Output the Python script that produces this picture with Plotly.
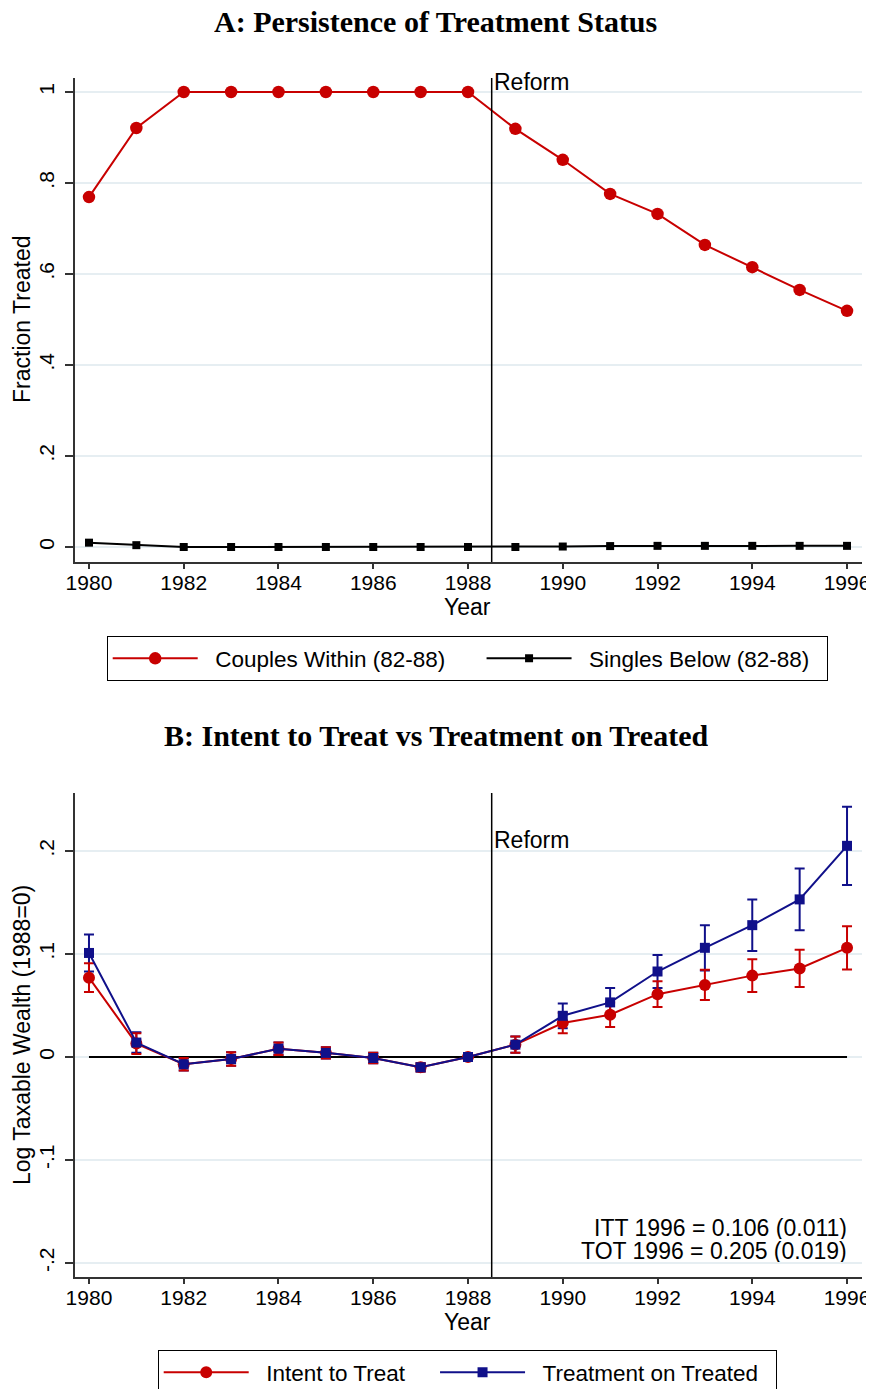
import plotly.graph_objects as go

years = list(range(1980, 1997))
couples_within = [0.769, 0.921, 1.0, 1.0, 1.0, 1.0, 1.0, 1.0, 1.0,
                  0.919, 0.851, 0.776, 0.732, 0.664, 0.615, 0.565, 0.519]
singles_below = [0.0095, 0.004, 0.0, 0.0, 0.0, 0.0, 0.0, 0.0, 0.0,
                 0.0, 0.001, 0.002, 0.0025, 0.0025, 0.0025, 0.0025, 0.0025]

itt = [0.077, 0.013, -0.007, -0.002, 0.008, 0.004, -0.001, -0.010, 0.0,
       0.012, 0.033, 0.041, 0.061, 0.070, 0.079, 0.086, 0.106]
itt_ci = [0.014, 0.010, 0.006, 0.0065, 0.006, 0.0055, 0.005, 0.004, 0.0,
          0.008, 0.010, 0.012, 0.0125, 0.0146, 0.016, 0.018, 0.021]
tot = [0.101, 0.014, -0.007, -0.002, 0.008, 0.004, -0.001, -0.010, 0.0,
       0.012, 0.040, 0.053, 0.083, 0.106, 0.128, 0.153, 0.205]
tot_ci = [0.018, 0.010, 0.006, 0.0065, 0.006, 0.0055, 0.005, 0.004, 0.0,
          0.008, 0.012, 0.014, 0.016, 0.022, 0.025, 0.030, 0.038]

x_ticks = list(range(1980, 1997, 2))
a_ticks = [0, 0.2, 0.4, 0.6, 0.8, 1.0]
a_ticktext = ["0", ".2", ".4", ".6", ".8", "1"]
b_ticks = [-0.2, -0.1, 0, 0.1, 0.2]
b_ticktext = ["-.2", "-.1", "0", ".1", ".2"]
reform_year = 1988.5
itt_note = "ITT 1996 = 0.106 (0.011)"
tot_note = "TOT 1996 = 0.205 (0.019)"

RED = "#c80000"
NAVY = "#10108a"
GRID = "#e6eef2"
SANS = "Liberation Sans, Arial, sans-serif"
SERIF = "Liberation Serif, Times New Roman, serif"
NB = "\u00a0"

# page body has an 8px margin; target picture is 874 x 1389
OFF = 8
W, H = 874 - OFF, 1389 - OFF
fig = go.Figure()

# Panel A
fig.add_trace(go.Scatter(x=years, y=couples_within, mode="lines+markers",
                         name=NB * 2 + "Couples Within (82-88)" + NB * 5,
                         line=dict(color=RED, width=2),
                         marker=dict(symbol="circle", size=12.5, color=RED),
                         xaxis="x", yaxis="y", legend="legend"))
fig.add_trace(go.Scatter(x=years, y=singles_below, mode="lines+markers",
                         name=NB * 2 + "Singles Below (82-88)" + NB * 2,
                         line=dict(color="black", width=2),
                         marker=dict(symbol="square", size=8, color="black"),
                         xaxis="x", yaxis="y", legend="legend"))

# Panel B
fig.add_trace(go.Scatter(x=years, y=tot, mode="markers", showlegend=False,
                         marker=dict(size=1, color="rgba(0,0,0,0)"),
                         error_y=dict(type="data", array=tot_ci, color=NAVY,
                                      thickness=2, width=5),
                         xaxis="x2", yaxis="y2", legend="legend2"))
fig.add_trace(go.Scatter(x=years, y=itt, mode="lines+markers",
                         name=NB * 2 + "Intent to Treat" + NB * 4,
                         line=dict(color=RED, width=2),
                         marker=dict(symbol="circle", size=12, color=RED),
                         error_y=dict(type="data", array=itt_ci, color=RED,
                                      thickness=2, width=5),
                         xaxis="x2", yaxis="y2", legend="legend2"))
fig.add_trace(go.Scatter(x=years, y=tot, mode="lines+markers",
                         name=NB * 2 + "Treatment on Treated" + NB * 2,
                         line=dict(color=NAVY, width=2),
                         marker=dict(symbol="square", size=10, color=NAVY),
                         xaxis="x2", yaxis="y2", legend="legend2"))


def px_x(p):
    return (p - OFF) / W


def px_y(p):
    return 1 - (p - OFF) / H


xdom = [px_x(75), px_x(862)]
xrange_ = [1979.705, 1996.316]

common_x = dict(domain=xdom, range=xrange_, tickvals=x_ticks, automargin=False,
                ticks="outside", ticklen=5, tickwidth=1.5, tickcolor="#333",
                showline=True, linecolor="#333", linewidth=1.5,
                showgrid=False, zeroline=False,
                tickfont=dict(family=SANS, size=21, color="black"))
common_y = dict(ticks="outside", ticklen=8, tickwidth=1.5, tickcolor="#333",
                showline=True, linecolor="#333", linewidth=1.5, automargin=False,
                showgrid=True, gridcolor=GRID, gridwidth=1.5, zeroline=False,
                tickangle=-90, ticklabelstandoff=3,
                tickfont=dict(family=SANS, size=21, color="black"))

legend_common = dict(orientation="h", xanchor="center", yanchor="top",
                     bordercolor="black", borderwidth=1.2,
                     font=dict(family=SANS, size=22.5, color="black"),
                     itemwidth=85, tracegroupgap=0)

fig.update_layout(
    template="none",
    width=W, height=H,
    margin=dict(l=0, r=0, t=0, b=0, autoexpand=False),
    paper_bgcolor="white", plot_bgcolor="white",
    xaxis=dict(**common_x, anchor="y"),
    yaxis=dict(**common_y, anchor="x",
               domain=[px_y(562), px_y(78)], range=[-0.033, 1.0308],
               tickvals=a_ticks, ticktext=a_ticktext),
    xaxis2=dict(**common_x, anchor="y2"),
    yaxis2=dict(**common_y, anchor="x2",
                domain=[px_y(1277), px_y(793)], range=[-0.2136, 0.2563],
                tickvals=b_ticks, ticktext=b_ticktext),
    legend=dict(**legend_common, x=px_x(467.5), y=px_y(636)),
    legend2=dict(**legend_common, x=px_x(467.5), y=px_y(1350)),
    showlegend=True,
)

try:
    fig.update_xaxes(ticklabelstandoff=-4)
except Exception:
    pass

# Reform lines and zero line
fig.add_shape(type="line", xref="x", yref="y domain", x0=reform_year, x1=reform_year,
              y0=0, y1=1, line=dict(color="black", width=1.5))
fig.add_shape(type="line", xref="x2", yref="y2 domain", x0=reform_year, x1=reform_year,
              y0=0, y1=1, line=dict(color="black", width=1.5))
fig.add_shape(type="line", xref="x2", yref="y2", x0=years[0], x1=years[-1],
              y0=0, y1=0, line=dict(color="black", width=2), layer="between")

txt = dict(family=SANS, size=23, color="black")
fig.add_annotation(x=reform_year, xref="x", y=px_y(82), yref="paper",
                   text="Reform", showarrow=False, xanchor="left", yanchor="middle",
                   font=txt)
fig.add_annotation(x=reform_year, xref="x2", y=px_y(840), yref="paper",
                   text="Reform", showarrow=False, xanchor="left", yanchor="middle",
                   font=txt)

fig.add_annotation(x=years[-1], xref="x2", y=px_y(1228), yref="paper",
                   text=itt_note, showarrow=False, xanchor="right", yanchor="middle",
                   height=22, valign="middle", xshift=2, font=txt)
fig.add_annotation(x=years[-1], xref="x2", y=px_y(1251), yref="paper",
                   text=tot_note, showarrow=False, xanchor="right", yanchor="middle",
                   height=22, valign="middle", xshift=2, font=txt)

# Axis titles
fig.add_annotation(x=px_x(468), y=px_y(607), xref="paper", yref="paper", text="Year",
                   showarrow=False, xanchor="center", yanchor="middle", font=txt)
fig.add_annotation(x=px_x(468), y=px_y(1322), xref="paper", yref="paper", text="Year",
                   showarrow=False, xanchor="center", yanchor="middle", font=txt)
fig.add_annotation(x=px_x(22), y=px_y(320), xref="paper", yref="paper",
                   text="Fraction Treated", textangle=-90,
                   showarrow=False, xanchor="center", yanchor="middle", font=txt)
fig.add_annotation(x=px_x(22), y=px_y(1035), xref="paper", yref="paper",
                   text="Log Taxable Wealth (1988=0)", textangle=-90,
                   showarrow=False, xanchor="center", yanchor="middle", font=txt)

# Panel titles
fig.add_annotation(x=px_x(435.5), xref="paper", y=px_y(21), yref="paper",
                   text="<b>A: Persistence of Treatment Status</b>", showarrow=False,
                   xanchor="center", yanchor="middle", height=26, valign="middle",
                   font=dict(family=SERIF, size=30, color="black"))
fig.add_annotation(x=px_x(435.5), xref="paper", y=px_y(735), yref="paper",
                   text="<b>B: Intent to Treat vs Treatment on Treated</b>", showarrow=False,
                   xanchor="center", yanchor="middle", height=26, valign="middle",
                   font=dict(family=SERIF, size=30, color="black"))

fig.write_html("out.html")
